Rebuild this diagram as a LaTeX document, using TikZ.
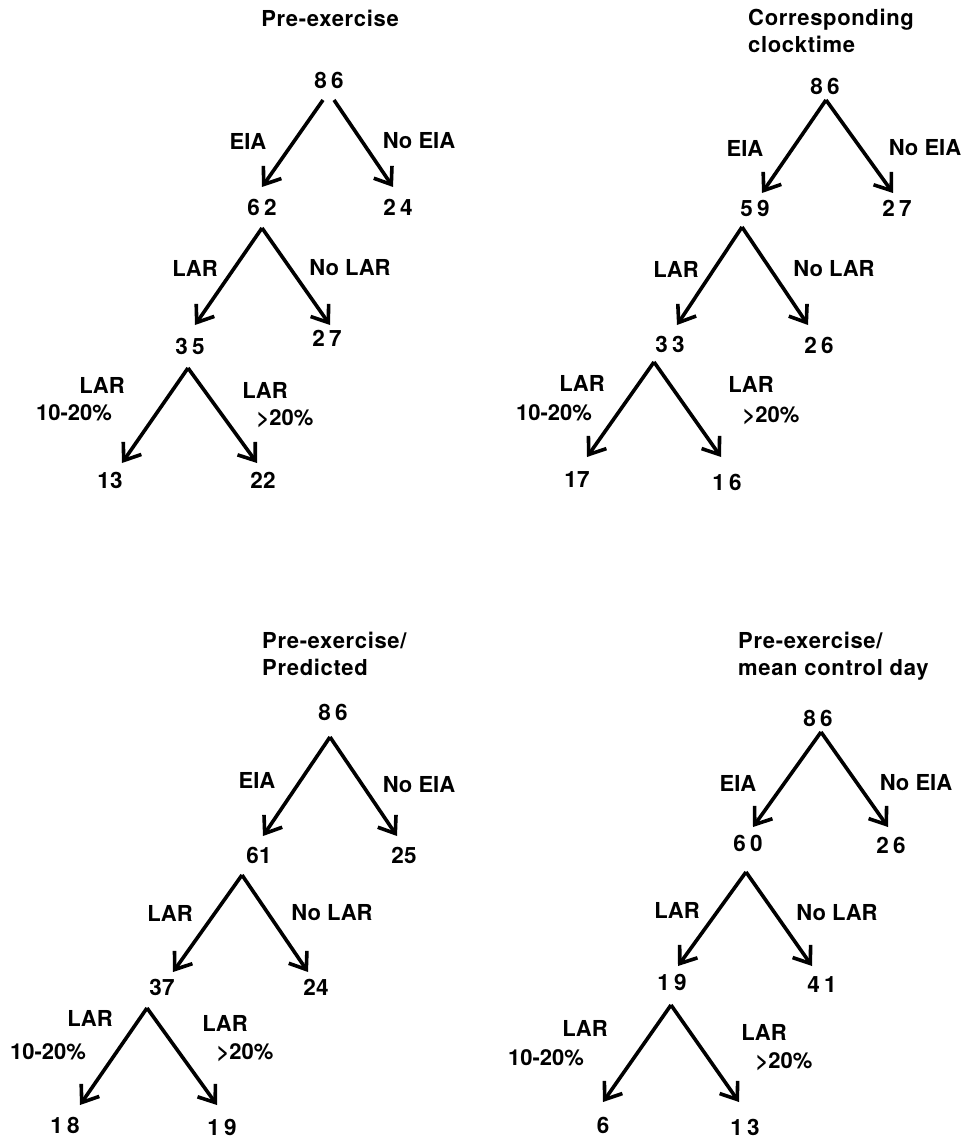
\documentclass[tikz,border=0pt]{standalone}
\usepackage{fontspec}
\setmainfont{TeX Gyre Heros}
\newfontfamily\ttlfont[LetterSpace=3]{TeX Gyre Heros}
\newfontfamily\spnum[LetterSpace=18]{TeX Gyre Heros}
\usetikzlibrary{arrows.meta}
\begin{document}
\begin{tikzpicture}[x=1pt,y=-1pt,
 num/.style={inner sep=0pt, font=\bfseries\fontsize{22.5}{26}\selectfont},
 snum/.style={inner sep=0pt, font=\spnum\bfseries\fontsize{22.5}{26}\selectfont},
 lab/.style={inner sep=0pt, font=\bfseries\fontsize{22}{26}\selectfont},
 ttl/.style={inner sep=0pt, anchor=west, font=\ttlfont\bfseries\fontsize{22}{27}\selectfont, align=left},
 arr/.style={line width=3.6pt, -{Straight Barb[length=15pt,width=22pt]}}]
\useasboundingbox (0,0) rectangle (974,1139);

% ---------- Panel 1 ----------
\node[ttl, anchor=center] (t1) at (330,18) {Pre-exercise};
\node[snum] (a86) at (329,80) {86};
\node[snum] (a62) at (262,207) {62};
\node[snum] (a24) at (398,207) {24};
\node[snum] (a35) at (190,346) {35};
\node[snum] (a27) at (327,338) {27};
\node[num] (a13) at (110,480) {13};
\node[num] (a22) at (263,480) {22};
\node[lab] (aEIA) at (248,141) {EIA};
\node[lab] (aNoEIA) at (419,141) {No EIA};
\node[lab] (aLAR) at (195,268) {LAR};
\node[lab] (aNoLAR) at (350,268) {No LAR};
\node[lab] (aL1) at (102,385) {LAR};
\node[lab] (aP1) at (74,413) {10-20\%};
\node[lab] (aL2) at (265,390) {LAR};
\node[lab] (aP2) at (285,419) {>20\%};
\draw[arr] ([shift={(-6,20)}]a86.center) -- ([shift={(0,-20)}]a62.center);
\draw[arr] ([shift={(5,20)}]a86.center) -- ([shift={(-5,-20)}]a24.center);
\draw[arr] ([shift={(0,21)}]a62.center) -- ([shift={(5,-21)}]a35.center);
\draw[arr] ([shift={(0,21)}]a62.center) -- ([shift={(3,-13)}]a27.center);
\draw[arr] ([shift={(-2,22)}]a35.center) -- ([shift={(12,-17)}]a13.center);
\draw[arr] ([shift={(-2,22)}]a35.center) -- ([shift={(-6,-17)}]a22.center);

% ---------- Panel 2 ----------
\node[ttl] (t2) at (748,31) {Corresponding\\clocktime};
\node[snum] (b86) at (825,86) {86};
\node[snum] (b59) at (755,208) {59};
\node[snum] (b27) at (897,208) {27};
\node[snum] (b33) at (670,344) {33};
\node[snum] (b26) at (819,345) {26};
\node[num] (b17) at (577,480) {17};
\node[snum] (b16) at (727,482) {16};
\node[lab] (bEIA) at (745,148) {EIA};
\node[lab] (bNoEIA) at (925,148) {No EIA};
\node[lab] (bLAR) at (676,269) {LAR};
\node[lab] (bNoLAR) at (834,269) {No LAR};
\node[lab] (bL1) at (582,383) {LAR};
\node[lab] (bP1) at (554,413) {10-20\%};
\node[lab] (bL2) at (751,384) {LAR};
\node[lab] (bP2) at (771,416) {>20\%};
\draw[arr] ([shift={(1,14)}]b86.center) -- ([shift={(7,-15)}]b59.center);
\draw[arr] ([shift={(1,14)}]b86.center) -- ([shift={(-4,-15)}]b27.center);
\draw[arr] ([shift={(-13,19)}]b59.center) -- ([shift={(7,-19)}]b33.center);
\draw[arr] ([shift={(-13,19)}]b59.center) -- ([shift={(-11,-20)}]b26.center);
\draw[arr] ([shift={(-16,18)}]b33.center) -- ([shift={(10,-23)}]b17.center);
\draw[arr] ([shift={(-16,18)}]b33.center) -- ([shift={(-6,-25)}]b16.center);

% ---------- Panel 3 ----------
\node[ttl] (t3) at (262,654) {Pre-exercise/\\Predicted};
\node[snum] (c86) at (333,712) {86};
\node[num] (c61) at (259,855) {61};
\node[num] (c25) at (404,855) {25};
\node[num] (c37) at (162,987) {37};
\node[num] (c24) at (316,987) {24};
\node[snum] (c18) at (65,1125) {18};
\node[snum] (c19) at (222,1127) {19};
\node[lab] (cEIA) at (257,780) {EIA};
\node[lab] (cNoEIA) at (419,785) {No EIA};
\node[lab] (cLAR) at (170,913) {LAR};
\node[lab] (cNoLAR) at (332,913) {No LAR};
\node[lab] (cL1) at (90,1018) {LAR};
\node[lab] (cP1) at (48,1052) {10-20\%};
\node[lab] (cL2) at (225,1023) {LAR};
\node[lab] (cP2) at (245,1053) {>20\%};
\draw[arr] ([shift={(-3,25)}]c86.center) -- ([shift={(4,-19)}]c61.center);
\draw[arr] ([shift={(-3,25)}]c86.center) -- ([shift={(-7,-19)}]c25.center);
\draw[arr] ([shift={(-17,20)}]c61.center) -- ([shift={(11,-15)}]c37.center);
\draw[arr] ([shift={(-17,20)}]c61.center) -- ([shift={(-8,-15)}]c24.center);
\draw[arr] ([shift={(-15,21)}]c37.center) -- ([shift={(15,-20)}]c18.center);
\draw[arr] ([shift={(-15,21)}]c37.center) -- ([shift={(-5,-22)}]c19.center);

% ---------- Panel 4 ----------
\node[ttl] (t4) at (738,656) {Pre-exercise/\\mean control day};
\node[snum] (d86) at (818,718) {86};
\node[snum] (d60) at (748,843) {60};
\node[snum] (d26) at (891,845) {26};
\node[snum] (d19) at (672,982) {19};
\node[snum] (d41) at (822,985) {41};
\node[num] (d6) at (603,1125) {6};
\node[snum] (d13) at (745,1127) {13};
\node[lab] (dEIA) at (738,783) {EIA};
\node[lab] (dNoEIA) at (916,783) {No EIA};
\node[lab] (dLAR) at (677,910) {LAR};
\node[lab] (dNoLAR) at (837,913) {No LAR};
\node[lab] (dL1) at (585,1028) {LAR};
\node[lab] (dP1) at (546,1058) {10-20\%};
\node[lab] (dL2) at (764,1032) {LAR};
\node[lab] (dP2) at (784,1062) {>20\%};
\draw[arr] ([shift={(3,14)}]d86.center) -- ([shift={(5,-16)}]d60.center);
\draw[arr] ([shift={(3,14)}]d86.center) -- ([shift={(-3,-18)}]d26.center);
\draw[arr] ([shift={(-2,29)}]d60.center) -- ([shift={(6,-16)}]d19.center);
\draw[arr] ([shift={(-2,29)}]d60.center) -- ([shift={(-10,-19)}]d41.center);
\draw[arr] ([shift={(-1,23)}]d19.center) -- ([shift={(0,-23)}]d6.center);
\draw[arr] ([shift={(-1,23)}]d19.center) -- ([shift={(-6,-25)}]d13.center);
\end{tikzpicture}
\end{document}
